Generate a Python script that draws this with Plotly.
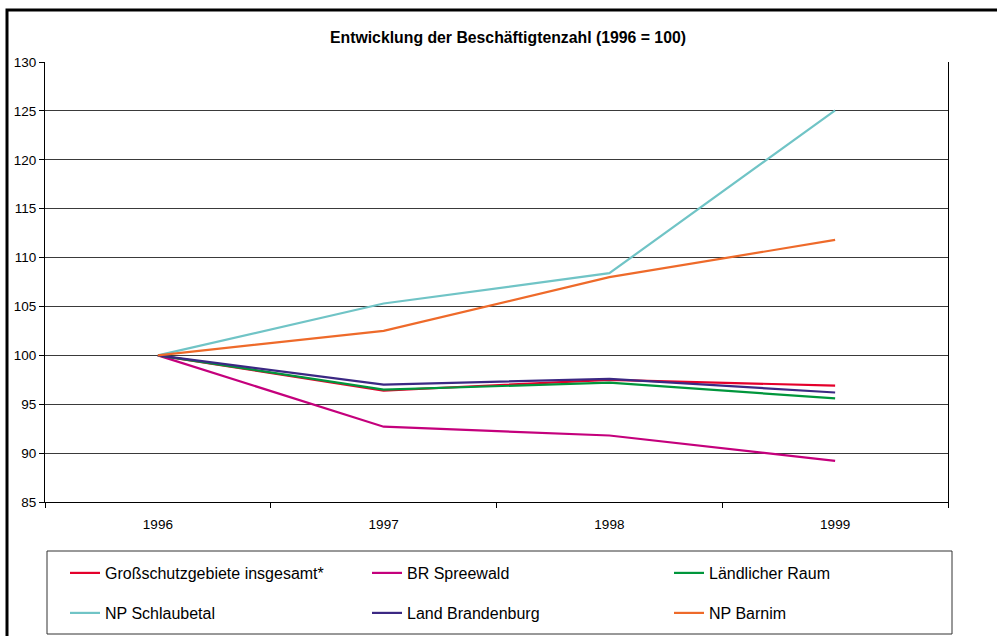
import plotly.graph_objects as go

years = ["1996", "1997", "1998", "1999"]
series_names = [
    "Großschutzgebiete insgesamt*",
    "BR Spreewald",
    "Ländlicher Raum",
    "NP Schlaubetal",
    "Land Brandenburg",
    "NP Barnim",
]
grossschutz = [100, 96.4, 97.5, 96.9]
spreewald = [100, 92.7, 91.8, 89.2]
laendlich = [100, 96.5, 97.2, 95.6]
schlaubetal = [100, 105.3, 108.4, 125.05]
brandenburg = [100, 97.0, 97.6, 96.2]
barnim = [100, 102.5, 108.0, 111.8]
y_ticks = [85, 90, 95, 100, 105, 110, 115, 120, 125, 130]

values = [grossschutz, spreewald, laendlich, schlaubetal, brandenburg, barnim]
colors = ["#e4002b", "#c4007c", "#00963c", "#70c4c6", "#3b2883", "#ee6a2a"]
legend_ids = ["legend", "legend", "legend", "legend2", "legend2", "legend2"]

fig = go.Figure()
for name, vals, col, lg in zip(series_names, values, colors, legend_ids):
    fig.add_trace(go.Scatter(
        x=years, y=vals, name=name, mode="lines",
        line=dict(color=col, width=2.2),
        legend=lg,
    ))

W, H = 997, 636
L, R, T, B = 45, 49, 62, 134
pw = W - L - R
ph = H - T - B

def px_x(p):
    return (p - L) / pw

def px_y(p):
    return (H - B - p) / ph

font_family = "Liberation Sans, Arial, sans-serif"

legend_common = dict(
    orientation="h",
    entrywidth=257,
    entrywidthmode="pixels",
    xanchor="left",
    yanchor="middle",
    bgcolor="rgba(0,0,0,0)",
    borderwidth=0,
    font=dict(family=font_family, size=16, color="#000000"),
    itemwidth=30,
)

fig.update_layout(
    width=W, height=H,
    margin=dict(l=L, r=R, t=T, b=B, autoexpand=False),
    paper_bgcolor="white",
    plot_bgcolor="white",
    font=dict(family=font_family, size=13.5, color="#000000"),
    title=dict(
        text="<b>Entwicklung der Beschäftigtenzahl (1996 = 100)</b>",
        x=508 / W, xanchor="center",
        y=1 - 37 / H, yanchor="middle",
        font=dict(family=font_family, size=15.8, color="#000000"),
    ),
    legend=dict(x=px_x(65), y=px_y(573), **legend_common),
    legend2=dict(x=px_x(65), y=px_y(613), **legend_common),
    xaxis=dict(
        type="category",
        range=[-0.5, 3.5],
        showgrid=False,
        showline=True, linecolor="#000000", linewidth=1,
        ticks="outside", tickson="boundaries", ticklen=5,
        tickcolor="#000000",
        ticklabelstandoff=10,
        tickfont=dict(size=13.5),
        zeroline=False,
        mirror=False,
    ),
    yaxis=dict(
        range=[85, 130],
        tickvals=y_ticks,
        ticktext=[str(v) for v in y_ticks],
        showgrid=True, gridcolor="#3a3a3a", gridwidth=1,
        showline=True, linecolor="#000000", linewidth=1,
        mirror=True,
        ticks="outside", ticklen=5, tickcolor="#000000",
        tickfont=dict(size=13.5),
        zeroline=False,
    ),
    showlegend=True,
)

# legend frame
fig.add_shape(type="rect", xref="paper", yref="paper",
              x0=px_x(47), x1=px_x(952), y0=px_y(634), y1=px_y(551),
              line=dict(color="#333333", width=1), fillcolor="rgba(0,0,0,0)",
              layer="below")
# outer chart frame (cropped)
fig.add_shape(type="rect", xref="paper", yref="paper",
              x0=px_x(7), x1=px_x(1010), y0=px_y(700), y1=px_y(10),
              line=dict(color="#000000", width=3), fillcolor="rgba(0,0,0,0)",
              layer="below")

fig.write_html(
    "out.html",
    config={"displayModeBar": False},
    post_script="document.body.style.margin='0';document.body.style.overflow='hidden';",
)
